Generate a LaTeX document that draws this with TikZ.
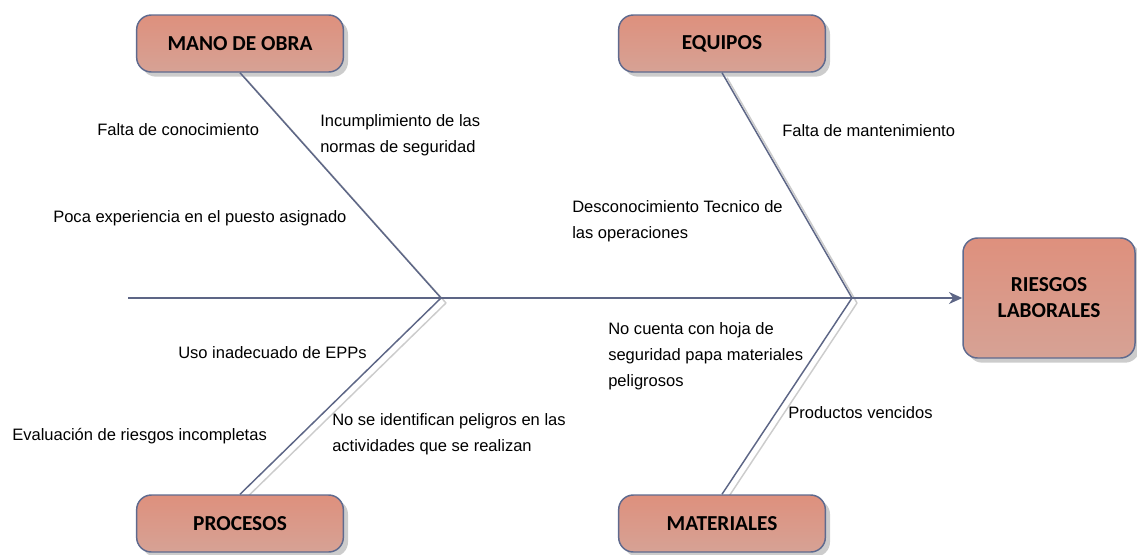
\documentclass[tikz,border=0pt]{standalone}
\usepackage{fontspec}
\setmainfont{Liberation Sans}
\newfontfamily\headfont{Carlito}
\usetikzlibrary{arrows.meta,shadows,backgrounds}

\definecolor{bonecol}{HTML}{5D6686}
\definecolor{edgecol}{HTML}{5F6A8E}
\definecolor{boxtop}{HTML}{DE907D}
\definecolor{boxmid}{HTML}{CD8575}
\definecolor{boxbot}{HTML}{D6A295}

\tikzset{
  category/.style={draw=edgecol, line width=1.1pt, rounded corners=11pt,
    top color=boxtop, middle color=boxmid, bottom color=boxbot,
    drop shadow={shadow xshift=3.5pt, shadow yshift=-3.5pt, fill=black!20, opacity=1},
    minimum width=155pt, minimum height=42.75pt, inner sep=0pt, align=center,
    font=\headfont\bfseries\fontsize{16}{19.5}\selectfont},
  cause/.style={font=\fontsize{12.4}{19.5}\selectfont, inner sep=0pt, anchor=west, align=left},
  bone/.style={draw=bonecol, line width=1.1pt},
  boneshadow/.style={draw=black!20, line width=1.1pt},
}

\begin{document}
\begin{tikzpicture}[x=0.75pt,y=-0.75pt,>={Stealth[length=10pt,width=9pt]}]
  \useasboundingbox (0,0) rectangle (1137,554);
  \node[category] (mano) at (240,43.5) {MANO DE OBRA};
  \node[category] (equipos) at (722,43.5) {EQUIPOS};
  \node[category] (procesos) at (240,523.5) {PROCESOS};
  \node[category] (materiales) at (722,523.5) {MATERIALES};
  \node[category, minimum width=129pt, minimum height=90pt] (riesgos) at (1049,298) {RIESGOS\\LABORALES};
  \coordinate (tail) at (128,298);
  \coordinate (j1) at (441,298);
  \coordinate (j2) at (852,298);
  %
  \begin{scope}[on background layer]
    \foreach \a/\b in {mano.south/j1, equipos.south/j2, j1/procesos.north, j2/materiales.north}
      \draw[boneshadow] ([shift={(5,5)}]\a) -- ([shift={(5,5)}]\b);
  \end{scope}
  \draw[bone,->] (tail) -- (riesgos.west);
  \draw[bone] (mano.south) -- (j1) -- (procesos.north);
  \draw[bone] (equipos.south) -- (j2) -- (materiales.north);
  %
  \node[cause] (falta) at (97,130) {Falta de conocimiento};
  \node[cause] (normas) at (320,135) {Incumplimiento de las\\normas de seguridad};
  \node[cause] (poca) at (53,218) {Poca experiencia en el puesto asignado};
  \node[cause] (tecnico) at (572,221) {Desconocimiento Tecnico de\\las operaciones};
  \node[cause] (mant) at (782,131) {Falta de mantenimiento};
  \node[cause] (hoja) at (608,356) {No cuenta con hoja de\\seguridad papa materiales\\peligrosos};
  \node[cause] (vencidos) at (788,413) {Productos vencidos};
  \node[cause] (epp) at (178,353) {Uso inadecuado de EPPs};
  \node[cause] (evaluacion) at (12,436) {Evaluación de riesgos incompletas};
  \node[cause] (peligros) at (332,434) {No se identifican peligros en las\\actividades que se realizan};
\end{tikzpicture}
\end{document}
